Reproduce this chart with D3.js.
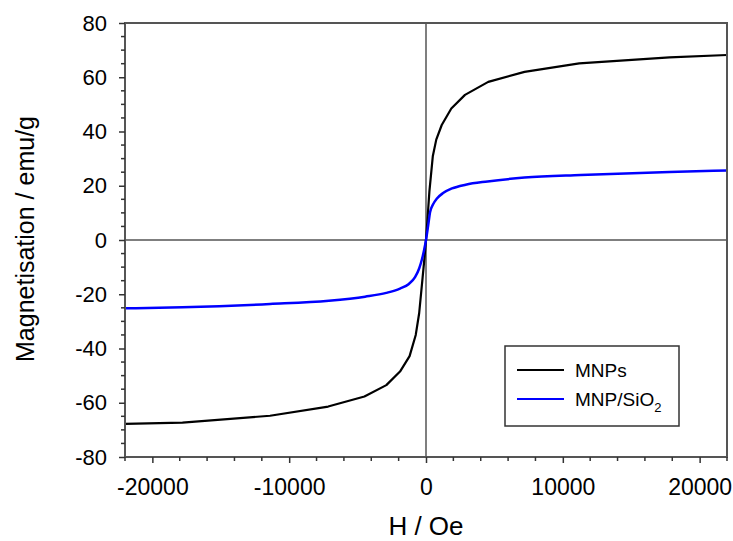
<!DOCTYPE html>
<html>
<head>
<meta charset="utf-8">
<script src="https://cdn.jsdelivr.net/npm/d3@7"></script>
<style>
  html, body { margin: 0; padding: 0; background: #fff; }
  text { font-family: "Liberation Sans", Arial, sans-serif; fill: #000; }
</style>
</head>
<body>
<svg id="chart" width="733" height="541"></svg>
<script>
// ---- data ----
const hMNP = [-22000, -17800, -11400, -7150, -4500, -2900, -1900, -1200, -750, -500, -250, -100, 0,
              100, 250, 500, 750, 1150, 1850, 2850, 4550, 7200, 11200, 17800, 22000];
const mMNP = [-67.8, -67.3, -64.8, -61.4, -57.7, -53.5, -48.5, -42.8, -35, -27, -14, -6, 0,
              7, 18, 31, 37, 42.4, 48.5, 53.5, 58.3, 62, 65.1, 67.3, 68.2];

const hSiO2 = [-22000, -17800, -11400, -7100, -4450, -2900, -1900, -1250, -800, -500, -300, -150, 0,
               150, 300, 500, 800, 1250, 1900, 2900, 4500, 7200, 11300, 17800, 22000];
const mSiO2 = [-25.2, -24.8, -23.6, -22.4, -20.9, -19.5, -17.9, -16.2, -13.7, -10.5, -7.2, -4, 0,
               5, 10.3, 13, 15.3, 17.3, 19, 20.4, 21.6, 23, 24, 25.1, 25.6];

const xTicks = [-20000, -10000, 0, 10000, 20000];
const yTicks = [-80, -60, -40, -20, 0, 20, 40, 60, 80];
const seriesNames = ["MNPs", "MNP/SiO"];
const seriesColors = ["#000000", "#0000ff"];

// ---- layout ----
const svg = d3.select("#chart");
const L = 125, T = 23, R = 727, B = 457;
const x = d3.scaleLinear().domain([-22000, 22000]).range([L, R]);
const y = d3.scaleLinear().domain([-80, 80]).range([B, T]);
const axisColor = "#555";
const fmt = d => String(d);

// zero lines
svg.append("line").attr("x1", L).attr("x2", R).attr("y1", y(0)).attr("y2", y(0))
  .attr("stroke", axisColor).attr("stroke-width", 1.5);
svg.append("line").attr("x1", x(0)).attr("x2", x(0)).attr("y1", T).attr("y2", B)
  .attr("stroke", axisColor).attr("stroke-width", 1.5);

// curves
const mnp = hMNP.map((h, i) => [h, mMNP[i]]);
const sio = hSiO2.map((h, i) => [h, mSiO2[i]]);
svg.append("path").datum(mnp)
  .attr("d", d3.line().x(d => x(d[0])).y(d => y(d[1])))
  .attr("fill", "none").attr("stroke", seriesColors[0]).attr("stroke-width", 2.2)
  .attr("stroke-linejoin", "round");
svg.append("path").datum(sio)
  .attr("d", d3.line().curve(d3.curveMonotoneX).x(d => x(d[0])).y(d => y(d[1])))
  .attr("fill", "none").attr("stroke", seriesColors[1]).attr("stroke-width", 2.5)
  .attr("stroke-linejoin", "round");

// frame
svg.append("rect").attr("x", L).attr("y", T).attr("width", R - L).attr("height", B - T)
  .attr("fill", "none").attr("stroke", axisColor).attr("stroke-width", 2);

// x axis
const xMinor = d3.range(-22000, 22001, 2000).filter(v => v % 10000 !== 0);
const xAxis = svg.append("g").attr("transform", `translate(0,${B})`);
xAxis.call(d3.axisBottom(x).tickValues(xTicks).tickSize(6).tickPadding(16).tickFormat(fmt));
xAxis.select(".domain").remove();
xAxis.selectAll(".tick line").attr("stroke", "#333").attr("stroke-width", 1.5);
xAxis.selectAll(".tick text").attr("font-size", 23).attr("font-family", "Liberation Sans, Arial, sans-serif");
xAxis.selectAll(".minor").data(xMinor).enter().append("line")
  .attr("x1", d => x(d)).attr("x2", d => x(d)).attr("y1", 0).attr("y2", 4)
  .attr("stroke", "#333").attr("stroke-width", 1.5);

// y axis
const yMinor = d3.range(-80, 81, 5).filter(v => v % 20 !== 0);
const yAxis = svg.append("g").attr("transform", `translate(${L},0)`);
yAxis.call(d3.axisLeft(y).tickValues(yTicks).tickSize(6).tickPadding(12).tickFormat(fmt));
yAxis.select(".domain").remove();
yAxis.selectAll(".tick line").attr("stroke", "#333").attr("stroke-width", 1.5);
yAxis.selectAll(".tick text").attr("font-size", 22).attr("font-family", "Liberation Sans, Arial, sans-serif");
yAxis.selectAll(".minor").data(yMinor).enter().append("line")
  .attr("x1", 0).attr("x2", -4).attr("y1", d => y(d)).attr("y2", d => y(d))
  .attr("stroke", "#333").attr("stroke-width", 1.5);

// titles
svg.append("text").attr("x", x(0)).attr("y", 535).attr("text-anchor", "middle")
  .attr("font-size", 26).text("H / Oe");
svg.append("text").attr("transform", "translate(34,239) rotate(-90)").attr("text-anchor", "middle")
  .attr("font-size", 25).text("Magnetisation / emu/g");

// legend
const lg = svg.append("g");
lg.append("rect").attr("x", 505).attr("y", 346).attr("width", 174).attr("height", 80)
  .attr("fill", "#fff").attr("stroke", "#333").attr("stroke-width", 1.5);
[370, 399].forEach((ly, i) => {
  lg.append("line").attr("x1", 517).attr("x2", 564).attr("y1", ly).attr("y2", ly)
    .attr("stroke", seriesColors[i]).attr("stroke-width", 2.2);
  const t = lg.append("text").attr("x", 575).attr("y", ly + 7).attr("font-size", 19).text(seriesNames[i]);
  if (i === 1) t.append("tspan").attr("font-size", 13).attr("dy", 6).text("2");
});
</script>
</body>
</html>
